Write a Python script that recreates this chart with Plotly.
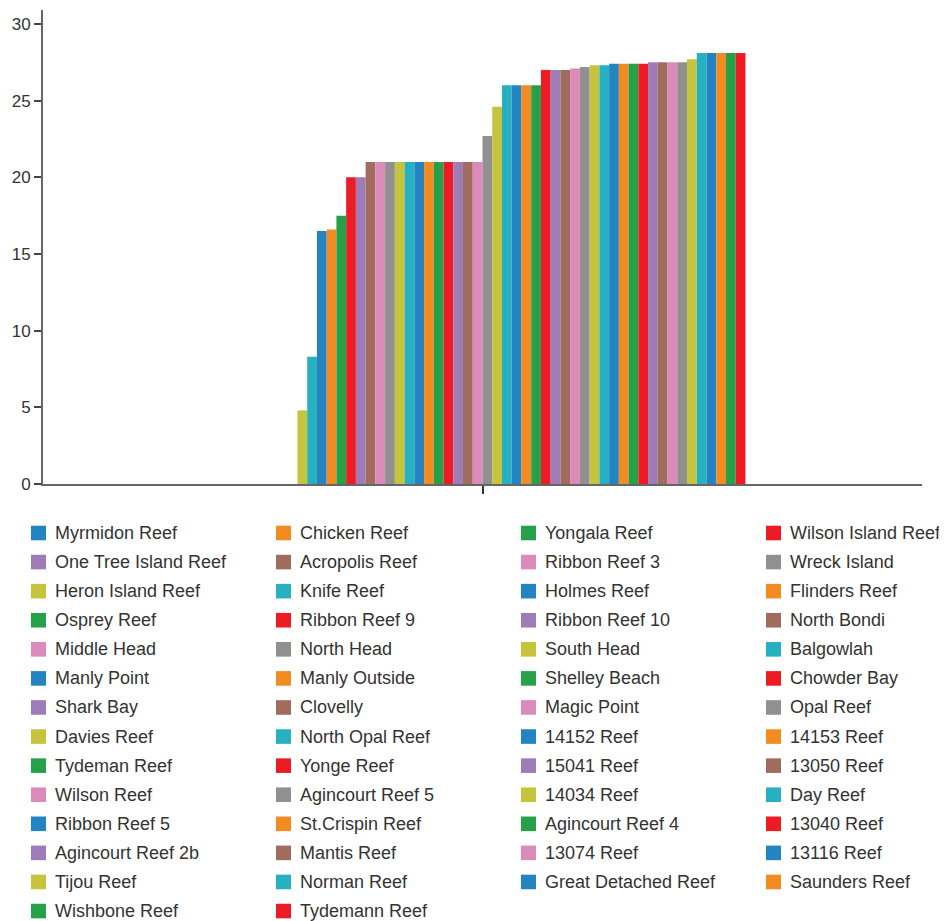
import plotly.graph_objects as go

# ---- data ----
reef_names = [
    "Myrmidon Reef", "Chicken Reef", "Yongala Reef", "Wilson Island Reef",
    "One Tree Island Reef", "Acropolis Reef", "Ribbon Reef 3", "Wreck Island",
    "Heron Island Reef", "Knife Reef", "Holmes Reef", "Flinders Reef",
    "Osprey Reef", "Ribbon Reef 9", "Ribbon Reef 10", "North Bondi",
    "Middle Head", "North Head", "South Head", "Balgowlah",
    "Manly Point", "Manly Outside", "Shelley Beach", "Chowder Bay",
    "Shark Bay", "Clovelly", "Magic Point", "Opal Reef",
    "Davies Reef", "North Opal Reef", "14152 Reef", "14153 Reef",
    "Tydeman Reef", "Yonge Reef", "15041 Reef", "13050 Reef",
    "Wilson Reef", "Agincourt Reef 5", "14034 Reef", "Day Reef",
    "Ribbon Reef 5", "St.Crispin Reef", "Agincourt Reef 4", "13040 Reef",
    "Agincourt Reef 2b", "Mantis Reef", "13074 Reef", "13116 Reef",
    "Tijou Reef", "Norman Reef", "Great Detached Reef", "Saunders Reef",
    "Wishbone Reef", "Tydemann Reef",
]
reef_values = [
    0, 0, 0, 0, 0, 0, 0, 0,
    4.8, 8.3, 16.5, 16.6, 17.5, 20.0, 20.0,
    21.0, 21.0, 21.0, 21.0, 21.0, 21.0, 21.0, 21.0, 21.0, 21.0, 21.0, 21.0,
    22.7, 24.6, 26.0, 26.0, 26.0, 26.0,
    27.0, 27.0, 27.0, 27.1, 27.2, 27.3, 27.3,
    27.4, 27.4, 27.4, 27.4, 27.5, 27.5, 27.5, 27.5,
    27.7, 28.1, 28.1, 28.1, 28.1, 28.1,
]
category = [""]
y_ticks = [0, 5, 10, 15, 20, 25, 30]

# ---- styling ----
palette = ["#2484c1", "#f28c22", "#27a149", "#ed1c24", "#9e7cb8",
           "#a06c5e", "#dc8aba", "#909090", "#c6c43c", "#26b0c0"]
legend_colors = [palette[i % 10] for i in range(len(reef_names))]
legend_colors[47] = palette[0]

OFF = 8  # page body margin
W, H = 947 - OFF, 921 - OFF
L, R, T, B = 43 - OFF, 25, 10 - OFF, 437
PW = W - L - R
PH = H - T - B
FONT = "Liberation Sans, Arial, Helvetica, sans-serif"

fig = go.Figure()
for i, (name, v) in enumerate(zip(reef_names, reef_values)):
    fig.add_trace(go.Bar(
        x=[0], y=[v], name=name,
        marker=dict(color=palette[i % 10], line=dict(width=0)),
        showlegend=False,
        hovertemplate=name + ": %{y}<extra></extra>",
    ))

def px2paper(px, py):
    # px, py in reference-screenshot pixels
    return (px - OFF - L) / PW, (H - B - (py - OFF)) / PH

shapes = []
annotations = []
for i, name in enumerate(reef_names):
    r, c = divmod(i, 4)
    sx = 31 + c * 245
    yc = 533 + r * 29.08
    x0, y0 = px2paper(sx, yc + 7.3)
    x1, y1 = px2paper(sx + 15, yc - 7.3)
    shapes.append(dict(type="rect", xref="paper", yref="paper",
                       x0=x0, x1=x1, y0=y0, y1=y1,
                       fillcolor=legend_colors[i], line=dict(width=0)))
    tx, ty = px2paper(53 + c * 245, yc)
    annotations.append(dict(xref="paper", yref="paper", x=tx, y=ty,
                            xanchor="left", yanchor="middle", text=name,
                            showarrow=False,
                            font=dict(size=18, color="#333333", family=FONT)))

fig.update_layout(
    width=W, height=H,
    margin=dict(l=L, r=R, t=T, b=B, pad=0),
    paper_bgcolor="white", plot_bgcolor="white",
    barmode="group", bargap=0.4017, bargroupgap=0,
    font=dict(family=FONT, color="#333333", size=17),
    shapes=shapes, annotations=annotations,
    showlegend=False,
    xaxis=dict(range=[-0.5, 0.5], tickvals=[0], ticktext=category,
               showline=True, linecolor="#666666", linewidth=2,
               ticks="outside", ticklen=8, tickcolor="#333333", tickwidth=2,
               showgrid=False, zeroline=False, fixedrange=True),
    yaxis=dict(range=[0, 30.91], tickvals=y_ticks,
               showline=True, linecolor="#666666", linewidth=2,
               ticks="outside", ticklen=7, tickcolor="#444444", tickwidth=1.5,
               showgrid=False, zeroline=False,
               tickfont=dict(size=17, color="#333333", family=FONT)),
)

fig.write_html("out.html")
